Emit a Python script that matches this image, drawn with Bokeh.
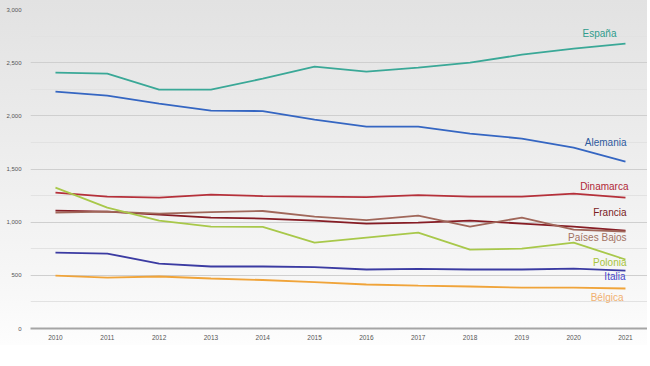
from bokeh.plotting import figure
from bokeh.models import ColumnDataSource, NumeralTickFormatter, SingleIntervalTicker, FixedTicker, Range1d
from bokeh.core.properties import value
from bokeh.embed import file_html
from bokeh.resources import INLINE

years = [2010, 2011, 2012, 2013, 2014, 2015, 2016, 2017, 2018, 2019, 2020, 2021]
year_labels = [str(y) for y in years]

espana = [2406, 2397, 2246, 2246, 2350, 2462, 2415, 2453, 2500, 2575, 2632, 2679]
alemania = [2227, 2190, 2115, 2049, 2045, 1964, 1898, 1898, 1833, 1786, 1701, 1570]
dinamarca = [1278, 1241, 1231, 1259, 1245, 1241, 1236, 1255, 1241, 1241, 1269, 1231]
francia = [1109, 1100, 1071, 1043, 1034, 1015, 987, 996, 1015, 987, 959, 921]
paises_bajos = [1090, 1100, 1081, 1095, 1105, 1053, 1020, 1062, 959, 1043, 930, 912]
polonia = [1325, 1137, 1015, 959, 955, 808, 855, 902, 742, 752, 808, 649]
italia = [714, 705, 611, 583, 583, 578, 555, 560, 555, 555, 564, 545]
belgica = [498, 479, 489, 470, 456, 437, 414, 404, 395, 385, 385, 376]

names = ["España", "Alemania", "Dinamarca", "Francia", "Países Bajos", "Polonia", "Italia", "Bélgica"]
series = [espana, alemania, dinamarca, francia, paises_bajos, polonia, italia, belgica]
line_colors = ["#3aa897", "#3566c2", "#b5303a", "#861c24", "#a0675a", "#a8c84a", "#3b3ba2", "#f0a43a"]
label_colors = ["#2f9c8c", "#2f5a9e", "#b02838", "#7a1a22", "#a27262", "#a8c43a", "#4848cc", "#f0b070"]
label_dx = [-9, 1, 3, 1, 1, 1, 0, -2]
label_dy = [-10, -19, -11, -18, 6, 3, 6, 9]

p = figure(width=647, height=345, output_backend="svg", toolbar_location=None,
           x_range=Range1d(2009.518, 2021.425), y_range=Range1d(0, 3000),
           min_border_left=30, min_border_right=0, min_border_top=9, min_border_bottom=17,
           styles={"background": "linear-gradient(to bottom, #e2e2e2 0%, #ececec 40%, #f8f8f8 85%, #fdfdfd 100%)"})
p.background_fill_alpha = 0
p.border_fill_alpha = 0
p.outline_line_color = None

for vals, col in zip(series, line_colors):
    p.line(years, vals, line_color=col, line_width=1.8)

src = ColumnDataSource(dict(
    x=[years[-1]] * len(names),
    y=[s[-1] for s in series],
    text=names,
    color=label_colors,
    dx=label_dx,
    dy=label_dy,
))
p.text(x="x", y="y", text="text", source=src, text_color="color", x_offset="dx", y_offset="dy",
       text_align="right", text_baseline="middle", text_font=value("Liberation Sans"),
       text_font_size="10px")

# axes
p.xaxis.ticker = FixedTicker(ticks=years)
p.xaxis.major_label_overrides = {y: l for y, l in zip(years, year_labels)}
p.xaxis.axis_line_color = "#a5a5a5"
p.xaxis.axis_line_width = 2
p.xaxis.major_tick_line_color = None
p.xaxis.minor_tick_line_color = None
p.xaxis.major_label_standoff = 0
p.xaxis.major_label_text_font = "Liberation Sans"
p.xaxis.major_label_text_font_size = "6.5px"
p.xaxis.major_label_text_color = "#555555"

p.yaxis.ticker = SingleIntervalTicker(interval=500, num_minor_ticks=2)
p.yaxis.formatter = NumeralTickFormatter(format="0,0")
p.yaxis.axis_line_color = None
p.yaxis.major_tick_line_color = None
p.yaxis.minor_tick_line_color = None
p.yaxis.major_label_standoff = 3
p.yaxis.major_label_text_font = "Liberation Sans"
p.yaxis.major_label_text_font_size = "6px"
p.yaxis.major_label_text_color = "#555555"

p.xgrid.grid_line_color = None
p.ygrid.grid_line_color = "#cfcfcf"
p.ygrid.grid_line_width = 1
p.ygrid.minor_grid_line_color = "#e2e2e2"

open("out.html", "w").write(file_html(p, INLINE))
